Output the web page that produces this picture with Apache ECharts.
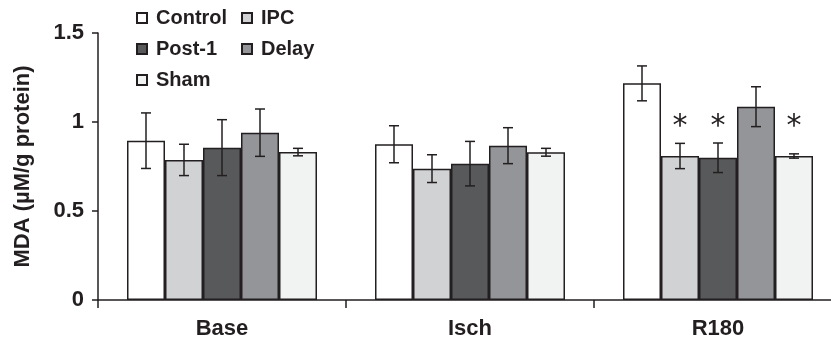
<!DOCTYPE html>
<html>
<head>
<meta charset="utf-8">
<script src="https://cdn.jsdelivr.net/npm/echarts@6/dist/echarts.min.js"></script>
<style>html,body{margin:0;padding:0;background:#fff}#c{width:831px;height:343px}</style>
</head>
<body>
<div id="c"></div>
<script>
// ---- data ----
var categories = ['Base', 'Isch', 'R180'];
var seriesNames = ['Control', 'IPC', 'Post-1', 'Delay', 'Sham'];
var controlMean = [0.895, 0.875, 1.217];
var controlSD   = [0.156, 0.104, 0.098];
var ipcMean     = [0.787, 0.738, 0.809];
var ipcSD       = [0.088, 0.078, 0.071];
var post1Mean   = [0.856, 0.766, 0.799];
var post1SD     = [0.157, 0.125, 0.083];
var delayMean   = [0.940, 0.867, 1.086];
var delaySD     = [0.133, 0.101, 0.112];
var shamMean    = [0.831, 0.830, 0.809];
var shamSD      = [0.021, 0.022, 0.012];
// significance markers (*) per series per category
var controlSig = [false, false, false];
var ipcSig     = [false, false, true];
var post1Sig   = [false, false, true];
var delaySig   = [false, false, false];
var shamSig    = [false, false, true];
var asteriskLevel = 0.97;
var yTicks = [0, 0.5, 1, 1.5];

var means = [controlMean, ipcMean, post1Mean, delayMean, shamMean];
var sds = [controlSD, ipcSD, post1SD, delaySD, shamSD];
var sigs = [controlSig, ipcSig, post1Sig, delaySig, shamSig];
var colors = ['#ffffff', '#d1d2d4', '#58595b', '#939598', '#f1f2f2'];
var dark = '#231f20';
var BAR_W = 38;

var chart = echarts.init(document.getElementById('c'), null, {renderer: 'canvas'});

var series = [];
seriesNames.forEach(function (name, i) {
  series.push({
    name: name,
    type: 'bar',
    data: means[i],
    barWidth: BAR_W,
    barGap: '0%',
    itemStyle: {color: colors[i], borderColor: dark, borderWidth: 1.5},
    emphasis: {disabled: true},
    z: 2
  });
});
seriesNames.forEach(function (name, i) {
  var data = categories.map(function (c, k) {
    return [k, means[i][k], sds[i][k], sigs[i][k] ? 1 : 0];
  });
  series.push({
    name: name + '_err',
    type: 'custom',
    z: 5,
    silent: true,
    data: data,
    encode: {x: 0, y: 1},
    renderItem: function (params, api) {
      var k = api.value(0), m = api.value(1), s = api.value(2), sig = api.value(3);
      var off = (i - 2) * BAR_W;
      var hi = api.coord([k, m + s]);
      var lo = api.coord([k, m - s]);
      var x = hi[0] + off;
      var cap = 5;
      var st = {stroke: dark, lineWidth: 1.5};
      var children = [
        {type: 'line', shape: {x1: x, y1: hi[1], x2: x, y2: lo[1]}, style: st},
        {type: 'line', shape: {x1: x - cap, y1: hi[1], x2: x + cap, y2: hi[1]}, style: st},
        {type: 'line', shape: {x1: x - cap, y1: lo[1], x2: x + cap, y2: lo[1]}, style: st}
      ];
      if (sig) {
        var a = api.coord([k, asteriskLevel]);
        children.push({type: 'text', x: x, y: a[1], style: {
          text: '*', fill: dark, font: '30px "DejaVu Sans"', align: 'center', verticalAlign: 'middle'
        }});
      }
      return {type: 'group', children: children};
    }
  });
});

var legendCommon = {
  orient: 'vertical',
  icon: 'rect',
  itemWidth: 10,
  itemHeight: 10,
  itemGap: 11,
  selectedMode: false,
  textStyle: {fontFamily: 'Liberation Sans, Arial, sans-serif', fontWeight: 'bold', fontSize: 20, color: dark, padding: [0, 0, 0, 4]}
};

chart.setOption({
  animation: false,
  backgroundColor: '#fff',
  textStyle: {fontFamily: 'Liberation Sans, Arial, sans-serif'},
  legend: [
    Object.assign({}, legendCommon, {left: 131, top: 3, data: ['Control', 'Post-1', 'Sham']}),
    Object.assign({}, legendCommon, {left: 236, top: 3, data: ['IPC', 'Delay']})
  ],
  grid: {left: 98, right: -11, top: 33, bottom: 43, outerBoundsMode: 'none', containLabel: false},
  xAxis: {
    type: 'category',
    data: categories,
    axisLine: {lineStyle: {color: dark, width: 1.5}},
    axisTick: {show: true, length: 8, lineStyle: {color: dark, width: 1.5}},
    axisLabel: {fontFamily: 'Liberation Sans, Arial, sans-serif', fontWeight: 'bold', fontSize: 22, color: dark, margin: 18}
  },
  yAxis: {
    type: 'value',
    min: yTicks[0],
    max: yTicks[yTicks.length - 1],
    interval: 0.5,
    name: 'MDA (\u00b5M/g protein)',
    nameLocation: 'middle',
    nameGap: 64,
    nameTextStyle: {fontFamily: 'Liberation Sans, Arial, sans-serif', fontWeight: 'bold', fontSize: 22, color: dark},
    splitLine: {show: false},
    axisLine: {show: true, lineStyle: {color: dark, width: 1.5}},
    axisTick: {show: true, length: 6, lineStyle: {color: dark, width: 1.5}},
    axisLabel: {fontFamily: 'Liberation Sans, Arial, sans-serif', fontWeight: 'bold', fontSize: 22, color: dark, margin: 14}
  },
  series: series
});
</script>
</body>
</html>
